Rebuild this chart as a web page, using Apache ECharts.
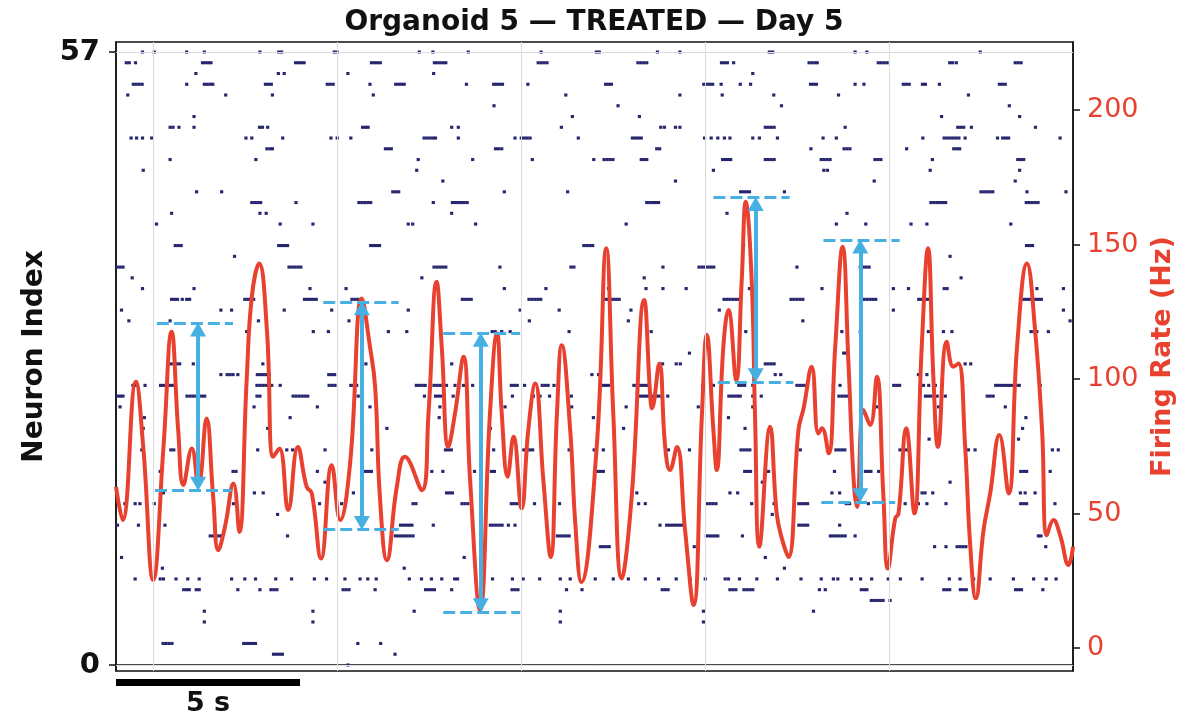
<!DOCTYPE html>
<html><head><meta charset="utf-8">
<script src="https://cdn.jsdelivr.net/npm/echarts@6/dist/echarts.min.js"></script>
<style>html,body{margin:0;padding:0;background:#fff}#c{width:1188px;height:719px}</style>
</head><body><div id="c"></div>
<script>
// ---- DATA ----
// spike times (s) for each neuron index 0..57
const spikeTimes = [
 [6.30],
 [4.28,4.36,4.44,4.52,7.58],
 [1.28,1.36,1.44,1.52,3.47,3.55,3.63,3.71,3.79,6.57,7.19],
 [],
 [2.40,5.35,12.07,15.96],
 [2.40,5.35,8.10,12.07,15.96,18.95],
 [20.52,20.60,20.68,20.76,20.84,21.03],
 [1.84,1.92,1.99,2.18,2.26,3.31,3.91,4.21,4.29,4.37,6.17,6.25,6.33,7.04,8.41,8.49,8.57,8.65,9.12,10.76,10.84,10.92,12.24,12.66,14.84,14.92,15.00,16.68,16.76,16.84,17.06,17.14,17.22,17.30,19.11,19.27,20.25,20.33,20.40,22.49,22.57,22.65,22.94,23.02,23.10,24.44,24.52,24.60,25.18],
 [0.52,1.20,1.29,1.63,1.95,2.26,3.14,3.50,3.79,4.34,4.77,5.39,5.72,6.22,6.63,6.84,7.07,7.97,8.30,8.57,8.85,9.20,9.28,10.23,10.77,11.06,11.51,12.07,12.34,13.02,13.51,13.92,14.38,14.74,15.22,15.60,16.01,16.55,16.64,16.94,17.41,17.97,18.61,19.16,19.49,19.61,19.98,20.23,20.53,20.98,21.31,21.90,22.64,22.93,23.30,23.75,24.38,24.93,25.27,25.54],
 [1.26,7.83,18.16],
 [0.15,9.46,17.64],
 [13.16,13.24,13.32,13.40,15.71,22.24,22.55,22.85,22.93,23.01,23.09,25.26],
 [2.56,2.64,2.72,2.80,2.87,4.66,7.59,7.67,7.75,7.83,7.91,7.99,8.07,11.99,12.07,12.15,12.23,12.31,16.04,16.12,16.20,16.28,16.35,17.02,19.41,19.49,19.57,19.65,19.73,19.81,20.08,25.06,25.13],
 [0.04,0.61,1.33,7.73,7.81,7.89,7.97,8.04,8.62,10.17,10.25,10.33,10.41,10.49,10.66,10.84,14.78,14.96,15.04,15.12,15.20,15.28,15.36,18.55,18.63,18.71,18.79,19.66],
 [4.39,17.83],
 [0.24,0.52,0.65,1.04,3.19,5.53,6.13,8.07,8.15,9.40,9.48,9.56,10.74,10.82,10.90,11.37,12.05,14.20,14.38,16.06,16.14,16.22,16.30,17.27,17.88,18.55,18.63,18.71,18.79,19.84,19.93,20.44,21.44,21.80,22.03,22.55,24.58,24.66,24.74,25.51],
 [1.29,3.76,4.00,6.45,8.98,9.06,9.14,14.15,16.68,16.89,19.45,19.66,21.90,21.98,22.19,24.57,24.70,24.97],
 [5.68,17.56,22.66],
 [1.20,3.18,3.26,5.47,6.78,6.86,6.94,8.58,8.88,9.74,10.20,10.28,13.00,13.08,13.16,13.24,17.08,17.16,17.24,17.73,19.52,20.36,20.44,20.51,20.72,24.58,24.66,24.74,25.38],
 [],
 [0.70,1.49,1.57,3.85,4.64,4.80,5.68,6.95,8.95,9.03,9.11,10.26,11.08,11.16,11.24,11.32,12.31,12.99,13.24,15.01,15.58,16.98,17.06,17.14,17.22,18.59,19.56,19.64,19.72,19.80,21.30,21.47,23.16,23.34,25.44,25.60],
 [22.09,24.52],
 [0.74,4.12,7.36,10.17,13.79,17.09,24.63],
 [0.77,4.73,8.78,12.97,16.64,24.72],
 [0.11,3.75,5.47,6.90,8.80,10.57,12.38,13.86,15.82,17.30,20.67,22.35,24.16],
 [0.04,0.12,0.19,1.93,2.01,2.09,2.17,2.25,2.33,2.41,3.83,3.91,4.81,4.89,4.97,5.05,5.13,5.21,6.58,8.38,8.68,8.76,8.84,8.92,9.16,10.77,11.34,11.52,11.78,12.37,14.20,14.28,14.36,14.44,14.52,14.60,14.68,14.76,14.99,16.65,16.73,16.81,16.89,16.96,17.30,17.53,19.64,19.72,19.80,19.88,21.99,22.07,22.15,22.23,22.31,22.53,23.67,23.75,23.83],
 [0.46,0.52,0.79,1.21,1.29,1.37,1.45,1.53,3.83,3.91,3.99,4.07,4.15,4.23,4.46,5.79,5.87,5.95,6.38,6.46,6.54,8.16,8.24,8.32,8.40,8.64,8.72,8.80,8.88,8.98,9.21,9.44,9.69,10.74,10.82,10.90,11.10,11.58,11.66,11.74,11.90,13.22,13.30,13.38,14.07,14.15,14.23,14.31,14.39,14.47,15.94,16.23,16.92,17.00,17.08,17.30,18.50,18.58,18.66,18.74,19.49,19.67,21.13,21.21,21.29,21.94,22.08,22.26,23.90,23.98,24.06,24.14,24.22,24.30,24.38,24.46,24.54,25.11],
 [2.85,3.02,3.10,3.18,3.31,3.84,3.92,4.00,4.08,4.16,5.78,5.86,5.94,12.93,13.11,17.91,18.06,21.80,22.03],
 [1.49,1.57,1.65,1.73,2.10,3.99,6.79,9.12,14.85,15.22,15.33,17.64,17.72,17.80,17.88,23.07,23.22],
 [15.58,19.77,19.84],
 [],
 [3.55,5.36,5.77,7.40,7.90,10.22,10.30,10.48,10.71,12.31,14.42,14.54,17.11,19.72,20.22,22.07,22.48,22.71,24.86,24.94,25.02,25.33],
 [0.35,1.47,3.87,6.33,11.23,13.92,18.66,25.92],
 [0.15,2.85,3.14,4.57,5.86,7.94,10.98,12.04,13.99,16.39,21.12,25.74],
 [1.51,1.59,1.67,1.80,1.92,2.00,3.50,3.58,3.66,3.74,5.12,5.20,5.28,5.36,5.44,6.41,6.49,6.57,9.41,9.49,9.57,9.65,11.22,11.30,11.38,11.46,11.54,13.27,13.35,13.43,13.51,13.59,13.67,16.52,16.60,16.68,16.76,16.84,16.92,18.34,18.42,18.50,18.58,18.66,20.32,20.40,20.48,20.56,20.64,21.81,21.89,21.97,22.05,24.66,24.74,24.82,24.90,24.98,25.06,25.14],
 [0.72,2.12,5.27,6.25,10.55,11.68,13.38,14.40,14.86,15.49,17.21,19.18,21.12,21.53,22.50,22.58,25.02,25.74],
 [0.44,8.31,14.35,22.96],
 [0.03,0.11,0.19,4.70,4.78,4.86,4.94,5.02,8.64,8.72,8.80,8.88,8.96,10.43,12.36,12.44,14.86,15.84,15.92,16.00,16.08,16.16,16.24,18.50,20.22,20.30,20.38,20.46],
 [3.22,22.66],
 [1.61,1.69,1.77,4.42,4.50,4.58,4.66,6.92,7.00,7.08,7.16,12.71,12.79,12.87,12.95,17.05,24.74,24.82,24.90],
 [],
 [1.10,4.46,5.35,7.94,8.06,9.77,13.86,19.57,20.37,21.60,22.03,24.31],
 [1.51,3.91,4.08,9.12,16.60,19.86],
 [3.69,3.77,3.85,3.93,4.89,6.60,6.68,6.76,6.84,6.92,8.62,9.14,9.22,9.30,9.38,9.46,9.54,14.42,14.50,14.58,14.66,14.74,22.14,22.22,22.30,22.38,22.46,22.54,24.73,24.81,24.89,24.97,25.05],
 [2.19,2.87,7.52,7.60,7.68,10.55,12.27,16.97,17.05,17.13,17.21,18.16,23.50,23.58,23.66,23.74,23.82,24.75,25.81],
 [8.88,15.20,20.60,24.43],
 [0.74,8.17,16.23,19.23,19.33,22.12,24.55],
 [1.47,3.80,8.21,9.69,11.31,12.98,13.26,13.34,13.42,13.50,14.27,14.35,14.42,16.48,16.56,16.64,16.70,17.64,17.72,17.80,17.88,19.16,19.24,19.32,19.40,20.62,20.70,20.78,22.18,24.50,24.58,24.66],
 [4.10,4.18,4.25,7.32,7.40,7.48,10.31,10.39,10.48,14.69,14.77,18.88,19.78,19.86,19.94,21.48,22.76,22.84,22.92],
 [0.41,0.56,0.72,0.97,3.53,3.69,4.53,5.84,6.01,6.38,8.37,8.45,8.53,8.61,8.68,9.30,10.84,11.01,11.09,11.17,11.25,12.56,14.03,14.11,14.19,14.27,15.99,16.17,16.35,16.53,16.68,17.30,17.48,17.97,19.21,19.57,21.92,22.50,22.58,22.66,22.74,22.82,22.90,23.07,23.95,24.09,24.17,24.25,25.65],
 [1.47,1.55,1.71,2.12,3.90,3.98,4.12,6.70,6.78,6.85,9.12,9.30,12.10,14.80,14.90,15.20,15.32,17.64,17.72,17.80,17.88,19.81,22.87,22.95,23.03,23.24,24.98],
 [2.12,12.40,14.22,22.43,24.55],
 [10.27,13.64,18.08,24.27],
 [0.32,2.98,4.25,6.99,12.22,15.32,16.47,17.87,19.63,23.16],
 [0.47,0.55,0.63,0.71,1.92,2.40,2.48,2.56,2.63,4.06,4.14,4.22,5.74,5.82,5.90,6.90,7.60,7.68,7.76,7.83,9.52,10.26,10.34,10.42,10.50,11.19,13.30,13.38,13.46,15.97,16.05,16.13,16.21,16.44,16.96,17.24,18.87,18.95,19.03,20.08,20.32,21.39,21.47,21.55,21.91,21.99,22.37,24.00,24.08,24.16],
 [2.17,4.41,4.57,6.30,8.63,17.30],
 [0.28,0.36,0.53,2.35,2.43,2.51,2.58,4.88,4.96,5.04,5.11,6.94,7.02,7.10,7.18,8.65,8.73,8.81,8.89,8.96,11.47,11.55,11.63,11.71,14.18,14.26,14.34,14.42,16.45,16.53,16.61,16.78,18.83,18.91,18.99,19.05,20.71,20.79,20.87,20.95,22.65,22.73,22.83,24.43,24.51,24.59],
 [0.72,1.04,1.92,2.40,3.91,4.42,4.50,5.93,6.01,8.24,8.61,9.57,11.55,13.05,13.13,14.71,15.32,17.75,17.84,20.08,20.40,23.48]
];

// population firing rate (Hz) over time (s)
const rateTimes = [0,0.18,0.54,0.74,1.01,1.29,1.51,1.69,1.83,2.06,2.24,2.46,2.64,2.78,2.96,3.19,3.35,3.55,3.69,3.89,4.10,4.27,4.44,4.68,4.94,5.18,5.32,5.57,5.86,6.09,6.36,6.68,6.90,7.04,7.17,7.36,7.63,7.85,8.31,8.49,8.71,8.85,9.03,9.21,9.44,9.62,9.89,10.16,10.35,10.48,10.64,10.80,11.02,11.20,11.39,11.61,11.81,11.98,12.11,12.34,12.48,12.64,13.06,13.32,13.51,13.74,14.01,14.35,14.51,14.56,14.76,14.92,15.05,15.24,15.46,15.69,15.92,16.05,16.23,16.32,16.50,16.64,16.85,17.00,17.11,17.27,17.36,17.48,17.77,17.95,18.09,18.27,18.54,18.68,18.90,19.08,19.18,19.36,19.54,19.74,19.90,20.04,20.13,20.31,20.49,20.67,20.85,20.97,21.17,21.26,21.47,21.69,21.89,22.06,22.21,22.33,22.57,22.75,22.89,23.07,23.21,23.36,23.57,23.75,24.00,24.25,24.48,24.75,24.97,25.16,25.29,25.47,25.65,25.88,26.0];
const rateHz = [60.0,47.6,99.0,74.8,25.3,74.8,117.6,81.0,60.6,74.2,60.6,85.4,56.2,36.4,45.1,61.2,43.2,99.6,130.6,143.0,118.2,71.1,74.2,51.3,74.8,60.0,57.5,33.3,68.0,47.6,68.7,130.0,112.0,97.1,56.2,32.7,60.0,71.1,58.7,87.2,136.2,112.0,74.8,87.2,108.3,62.5,14.1,87.2,117.0,87.2,63.7,78.6,51.9,81.0,98.4,62.5,33.9,87.2,112.6,81.0,46.0,24.5,74.8,148.6,87.2,25.9,56.2,129.4,94.7,89.1,105.8,74.8,66.2,74.8,43.9,16.0,87.2,116.4,81.0,66.2,112.0,125.7,99.6,136.8,165.9,136.8,87.2,37.7,82.3,50.1,40.8,33.9,81.0,89.1,104.6,79.8,81.7,72.4,112.0,149.2,105.8,62.5,52.5,88.5,82.9,100.9,56.2,29.6,48.2,50.1,81.7,50.1,112.0,148.6,99.6,74.8,113.9,104.6,105.8,74.8,37.7,18.5,43.9,57.5,79.2,57.5,112.0,143.0,118.2,81.0,42.0,47.6,42.0,30.9,37.7];

// peak-to-trough annotations (time in s, rate in Hz)
const arrowT      = [2.23, 6.68, 9.91, 17.38, 20.22];
const arrowTop    = [120.8, 128.7, 117.0, 167.5, 151.7];
const arrowBottom = [58.7, 44.1, 13.5, 99.0, 54.4];
const topDashStart = [1.11, 5.63, 8.89, 16.23, 19.22];
const topDashEnd   = [3.18, 7.68, 10.98, 18.30, 21.29];
const botDashStart = [1.06, 5.63, 8.89, 16.35, 19.16];
const botDashEnd   = [3.14, 7.68, 10.98, 18.40, 21.17];

const timeGridLines = [1, 6, 11, 16, 21];
const neuronTicks = [0, 57];
const rateTicks = [0, 50, 100, 150, 200];
const scaleBarSeconds = 5;
const titleText = 'Organoid 5 \u2014 TREATED \u2014 Day 5';

// ---- CHART ----
const FONT = 'DejaVu Sans';
const RED = '#e8412f', BLUE = '#45b0e1', NAVY = '#26266f';
const chart = echarts.init(document.getElementById('c'), null, {renderer: 'canvas'});

const raster = [];
spikeTimes.forEach((row, n) => row.forEach(t => raster.push([t, n])));
const rate = rateTimes.map((t, i) => [t, rateHz[i]]);

const arrowInset = 2.4; // Hz, so arrow tips touch dashed lines
const annoData = [];
arrowT.forEach((t, i) => {
  annoData.push([{coord: [topDashStart[i], arrowTop[i]], symbol: 'none', lineStyle: {type: [12, 5], width: 3.2}},
                 {coord: [topDashEnd[i], arrowTop[i]], symbol: 'none'}]);
  annoData.push([{coord: [botDashStart[i], arrowBottom[i]], symbol: 'none', lineStyle: {type: [12, 5], width: 3.2}},
                 {coord: [botDashEnd[i], arrowBottom[i]], symbol: 'none'}]);
  annoData.push([{coord: [t, arrowBottom[i] + arrowInset], symbol: 'triangle', lineStyle: {type: 'solid', width: 4}},
                 {coord: [t, arrowTop[i] - arrowInset], symbol: 'triangle'}]);
});

const gridLineData = timeGridLines.map(v => ({xAxis: v}));

const option = {
  animation: false,
  backgroundColor: '#fff',
  title: {text: titleText, left: 'center', top: 4,
    textStyle: {fontFamily: FONT, fontWeight: 'bold', fontSize: 28, color: '#111'}},
  grid: {left: 116, right: 115, top: 42, bottom: 48, show: true, borderColor: '#111', borderWidth: 1.5, backgroundColor: 'transparent'},
  xAxis: {type: 'value', min: 0, max: 26, axisLine: {show: true, lineStyle: {color: '#111', width: 1.5}},
    axisTick: {show: false}, axisLabel: {show: false}, splitLine: {show: false}},
  yAxis: [
    {type: 'value', min: -0.56, max: 57.93, position: 'left',
      name: 'Neuron Index', nameLocation: 'middle', nameGap: 67, nameRotate: 90,
      nameTextStyle: {fontFamily: FONT, fontWeight: 'bold', fontSize: 28, color: '#111'},
      axisLine: {show: true, lineStyle: {color: '#111', width: 1.5}},
      axisTick: {show: true, length: 7, customValues: neuronTicks, lineStyle: {color: '#111', width: 1.5}},
      axisLabel: {customValues: neuronTicks, fontFamily: FONT, fontWeight: 'bold', fontSize: 29, color: '#111', margin: 16},
      splitLine: {show: false}},
    {type: 'value', min: -8.5, max: 225.3, position: 'right',
      name: 'Firing Rate (Hz)', nameLocation: 'middle', nameGap: 76, nameRotate: 90,
      nameTextStyle: {fontFamily: FONT, fontWeight: 'bold', fontSize: 27, color: RED},
      axisLine: {show: true, lineStyle: {color: '#111', width: 1.5}},
      axisTick: {show: true, length: 7, customValues: rateTicks, lineStyle: {color: '#111', width: 1.5}},
      axisLabel: {customValues: rateTicks, fontFamily: FONT, fontSize: 27, color: RED, margin: 14},
      splitLine: {show: false}}
  ],
  series: [
    {type: 'line', data: [], yAxisIndex: 0, silent: true, z: 1,
      markLine: {silent: true, symbol: 'none', label: {show: false}, animation: false,
        lineStyle: {color: '#dcdcdc', width: 1, type: 'solid'},
        data: gridLineData.concat(neuronTicks.map(v => ({yAxis: v})))}},
    {type: 'scatter', name: 'spikes', data: raster, yAxisIndex: 0, z: 2, silent: true,
      symbol: 'rect', symbolSize: [3.2, 3.1], itemStyle: {color: NAVY, opacity: 1}},
    {type: 'line', name: 'rate', data: rate, yAxisIndex: 1, z: 3, smooth: 0.45, showSymbol: false, symbol: 'none',
      lineStyle: {color: RED, width: 4}, itemStyle: {color: RED}},
    {type: 'line', data: [], yAxisIndex: 1, z: 4, silent: true,
      markLine: {silent: true, animation: false, symbolSize: [16, 14], label: {show: false},
        lineStyle: {color: BLUE, width: 3}, itemStyle: {color: BLUE},
        emphasis: {disabled: true}, data: annoData}}
  ]
};
chart.setOption(option);

const x0 = chart.convertToPixel({xAxisIndex: 0}, 0);
const x1 = chart.convertToPixel({xAxisIndex: 0}, scaleBarSeconds);
const yBase = chart.convertToPixel({yAxisIndex: 0}, -0.56);
chart.setOption({graphic: [
  {type: 'rect', shape: {x: x0, y: yBase + 8, width: x1 - x0, height: 7}, style: {fill: '#000'}},
  {type: 'text', style: {text: scaleBarSeconds + ' s', x: (x0 + x1) / 2, y: yBase + 19, align: 'center', verticalAlign: 'top',
    font: 'bold 27px "DejaVu Sans"', fill: '#111'}}
]});
</script></body></html>
